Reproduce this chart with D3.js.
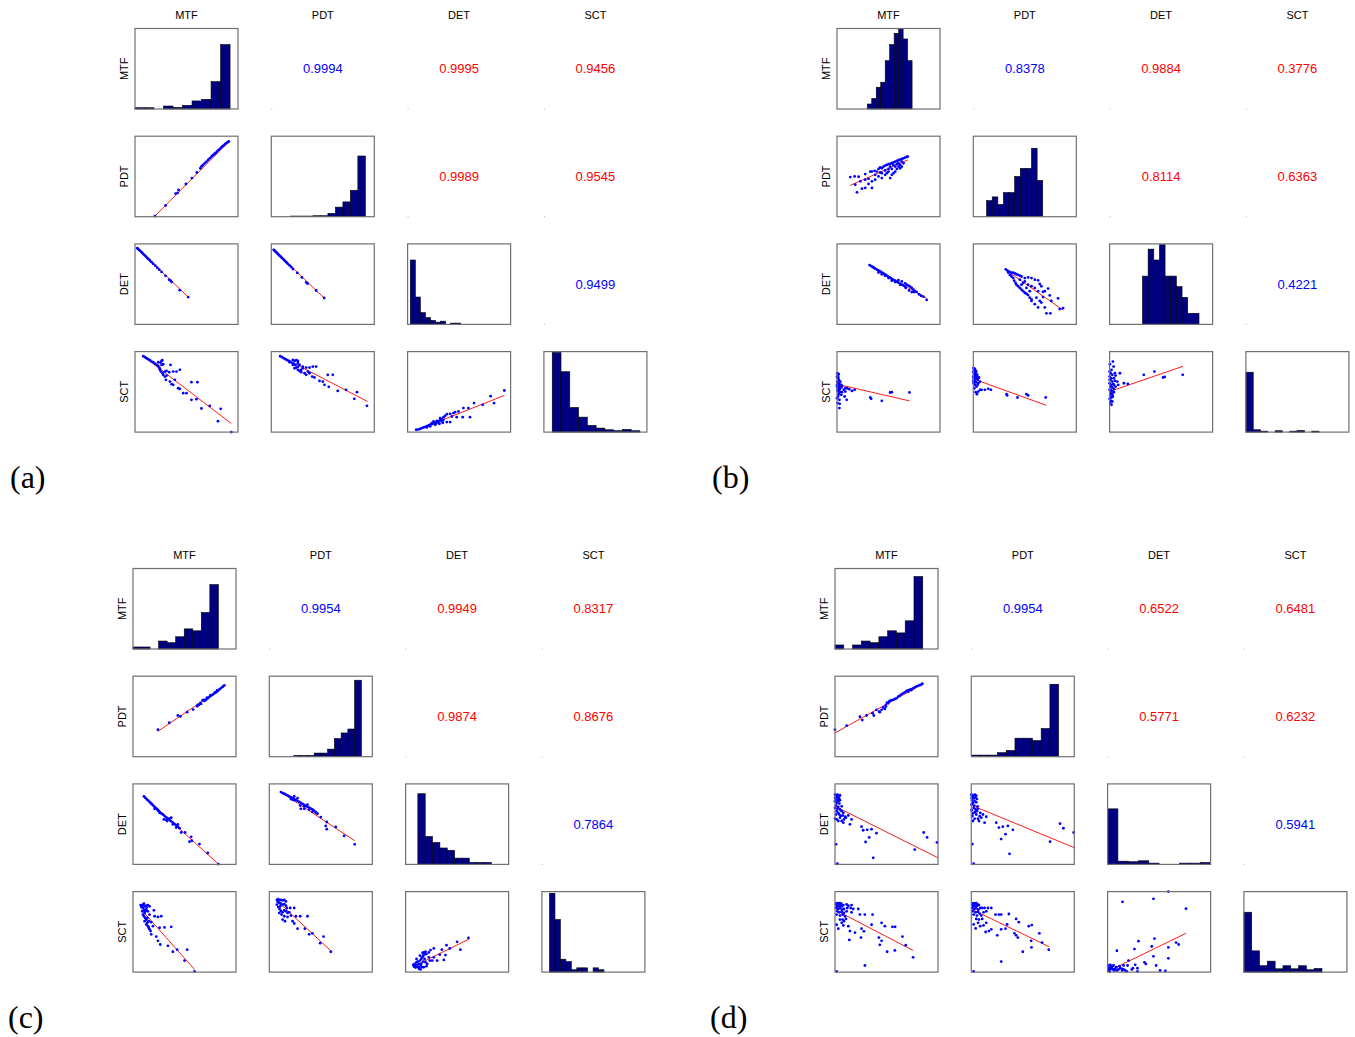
<!DOCTYPE html>
<html><head><meta charset="utf-8">
<script src="https://cdn.jsdelivr.net/npm/d3@7"></script>
<style>body{margin:0;background:#fff}svg{display:block}</style>
</head><body>
<script>
// Scatter-plot matrices of four image-quality measures for four cases.
const variables = ["MTF", "PDT", "DET", "SCT"];
const panelLabels = ["(a)", "(b)", "(c)", "(d)"];

// Signed correlation coefficients, upper triangle order:
// (MTF,PDT) (MTF,DET) (MTF,SCT) (PDT,DET) (PDT,SCT) (DET,SCT)
const corrA = [0.9994, -0.9995, -0.9456, -0.9989, -0.9545, 0.9499];
const corrB = [0.8378, -0.9884, -0.3776, -0.8114, -0.6363, 0.4221];
const corrC = [0.9954, -0.9949, -0.8317, -0.9874, -0.8676, 0.7864];
const corrD = [0.9954, -0.6522, -0.6481, -0.5771, -0.6232, 0.5941];

// Histogram bin heights (percent of axis height), ten bins per variable
const histA_MTF = [1.6, 1.6, 0, 3.7, 2.0, 4.5, 10, 12, 34, 80];
const histA_PDT = [0.8, 0.8, 0.8, 1.2, 1.2, 4.1, 11.9, 18.4, 32.8, 75.4];
const histA_DET = [80, 34, 14.6, 8.5, 4.9, 2.8, 4.0, 0, 1.6, 1.6];
const histA_SCT = [99, 75, 30.6, 18.6, 8.3, 5.0, 2.9, 1.7, 3.3, 1.7];
const histB_MTF = [6.2, 13, 27, 33.3, 60, 80, 94, 100, 87, 60];
const histB_PDT = [20, 24.6, 15.2, 30, 30, 50, 60, 60, 85, 45];
const histB_DET = [60, 93.5, 80, 99, 60, 60, 47, 33.6, 13.8, 13.8];
const histB_SCT = [74.4, 2.9, 1.2, 0, 1.7, 0, 1.2, 2.0, 0, 1.2];
const histC_MTF = [2.5, 2.5, 0, 9.9, 7.8, 15.2, 25, 22.6, 45.3, 80];
const histC_PDT = [1.6, 1.6, 1.6, 4.5, 4.5, 9.4, 22.5, 29.5, 34.4, 95];
const histC_DET = [87.8, 34.7, 27.3, 20.4, 17.5, 7.8, 7.8, 2.4, 2.4, 2.4];
const histC_SCT = [98, 65.3, 16, 13, 2.9, 5.3, 5.3, 0, 5.3, 2.9];
const histD_MTF = [5, 0, 5, 9.9, 7.8, 15.2, 22.6, 20, 35, 90];
const histD_PDT = [2, 2, 2, 5, 7.8, 23, 23, 20, 35, 90];
const histD_DET = [69, 4, 3.3, 4.5, 1.6, 0, 0, 1.6, 1.6, 2.4];
const histD_SCT = [74.4, 26.4, 7.9, 13.6, 4.1, 7.9, 4.1, 7.9, 2.9, 4.5];

// Bin span [first edge, last edge] on each variable's axis (0-100)
const binSpanA = [[0, 92.3], [18.7, 91.3], [2.6, 51.6], [8.1, 93.2]];
const binSpanB = [[29.4, 72.9], [12.9, 67.4], [31.9, 86.8], [0, 71]];
const binSpanC = [[0, 82.9], [23.9, 89.4], [11.9, 83.2], [7.4, 60.3]];
const binSpanD = [[0, 85.2], [0, 84.8], [0, 100], [0, 75.8]];

// Scatter observations [x, y] on 0-100 axes; lower triangle pairs (y vs x)
const ptsA_PDT_MTF = [[19.4,0.8],[29.7,13.9],[39.4,28.7],[41.3,29.5],[42.3,33.2],[49.4,40.6],[55.2,48],[60,54.9],[63.5,60.2],[64.8,62.7],[66.1,64.3],[67.7,66.4],[69.4,68.4],[71,70.5],[72.6,72.5],[74.2,74.6],[75.2,75.8],[76.5,77],[77.4,78.3],[78.4,79.1],[79.7,81.1],[81,82.8],[82.3,84],[83.5,85.7],[84.8,87.3],[86.1,88.5],[87.4,90.2],[88.7,91.4],[90,92.6],[91,93.4]];
const ptsA_DET_MTF = [[2.3,94.7],[3.2,93.5],[4.2,92.3],[5.2,91.1],[6.1,89.9],[7.1,88.7],[8.1,87.4],[9.4,85.8],[10.6,84.2],[11.9,82.6],[13.2,81],[14.5,79.4],[16.1,77.3],[17.7,75.3],[19.7,72.9],[21.6,70.4],[23.5,68],[25.8,65.2],[29.7,60.3],[33.2,55.5],[34.5,54.3],[35.5,52.6],[43.5,42.5],[51.6,34]];
const ptsA_DET_PDT = [[2.3,92.7],[3.2,91.5],[4.2,90.3],[5.2,89.1],[6.1,87.9],[7.1,86.6],[8.1,85.4],[9,84.2],[10,83],[11,81.8],[12.3,80.2],[13.5,78.5],[14.8,76.9],[16.1,75.3],[17.7,73.3],[19.4,71.3],[21,68.8],[25.2,64],[29.7,58.3],[33.9,52.2],[35.2,50.6],[43.5,42.1],[51.3,32.8]];
const ptsA_SCT_MTF = [[8.1,94.2],[9.7,93],[11.3,91.7],[12.9,90.5],[14.5,89.3],[16.1,87.6],[17.7,86.8],[19.4,85.1],[21,83.5],[22.6,82.2],[23.5,80.2],[24.2,78.5],[25.8,88.4],[24.8,86.4],[26.5,89.3],[27.4,84.3],[25.8,83.5],[22.6,86.8],[25.2,75.2],[26.8,73.1],[27.4,71.1],[29,69],[30.6,70.2],[33.2,74.4],[34.5,83.5],[37.1,75.2],[40.3,75.2],[43.5,77.3],[24.2,77.3],[29,75.2],[30,64.9],[33.9,62.8],[37.1,58.7],[38.7,64.9],[41.9,54.5],[43.5,53.7],[46.8,48.3],[50,48.3],[54.8,62],[60.6,62],[54.8,40.1],[59.7,40.9],[64.5,29.3],[72.6,32.6],[83.2,28.9],[80.6,13.6],[93.5,0],[30.6,76],[35.5,59.5]];
const ptsA_SCT_PDT = [[8.7,94.2],[10.6,93],[12.3,91.7],[13.9,90.5],[15.5,89.3],[17.1,88.4],[18.7,87.2],[20.3,86],[21.9,84.7],[23.5,83.5],[21,89.7],[22.6,88.4],[24.2,89.3],[25.8,88.4],[27.4,83.5],[25.8,81],[24.2,80.2],[22.6,79.3],[25.8,77.3],[27.4,76],[29,74.4],[30.6,79.3],[33.9,80.2],[37.1,80.2],[40.3,81.4],[43.5,81.4],[29,77.3],[32.3,73.1],[33.9,71.1],[37.1,73.1],[39.7,69],[41.9,67.8],[46.8,63.6],[50,62.8],[54.8,71.1],[59.7,71.1],[51.6,58.7],[55.8,56.2],[64.5,51.2],[72.6,52.5],[80.6,41.3],[83.2,49.6],[92.9,32.6],[25.8,85.5],[30.6,81.4],[35.5,75.2],[21,83.5],[17.7,86.8]];
const ptsA_SCT_DET = [[8.4,2.9],[10.6,3.3],[12.3,4.1],[13.9,5],[15.5,5.8],[17.1,6.6],[18.7,7.4],[20.3,8.3],[21.9,9.1],[23.5,9.9],[25.2,10.7],[26.8,12],[28.4,12.8],[30,13.6],[31.6,14.9],[33.2,15.7],[25.2,13.2],[28.4,14],[31.6,17.4],[34.8,18.6],[36.5,20.2],[38.1,22.3],[41.3,22.7],[44.5,23.6],[31,10.3],[34.2,11.6],[38.1,12.4],[41.3,12.4],[42.9,19.4],[46.1,24.8],[49.4,25.6],[47.7,18.6],[53.5,18.6],[60.6,18.6],[54.2,29.8],[59,29.8],[64.5,36],[72.9,33.9],[80.6,44.6],[83.9,36],[93.9,51.7],[21.9,7],[18.7,5.8],[26.8,9.1],[30,11.2],[33.2,13.2],[23.5,11.2],[27.4,10.3],[34.8,15.3]];

const ptsB_PDT_MTF = [[12.9,49.2],[17.1,50],[21,49.6],[27.4,52.9],[32.3,56.1],[33.9,56.1],[36.5,57],[38.7,56.1],[40.3,59.4],[41.9,61.1],[43.5,60.2],[45.2,62.3],[46.8,63.5],[48.4,64.3],[50,65.2],[51.6,65.6],[53.2,66.4],[54.8,67.6],[56.5,68.4],[58.1,69.3],[59.7,70.1],[61.3,70.9],[62.9,71.7],[64.5,72.5],[66.1,73.4],[67.7,74.2],[68.7,74.6],[51.6,62.3],[54.8,64.3],[56.5,62.3],[58.1,65.2],[59.7,66.4],[61.3,64.3],[62.9,68.4],[59.7,62.3],[58.1,59.4],[56.5,56.1],[54.8,54.1],[53.2,52],[51.6,48],[50,56.1],[46.8,52],[43.5,48],[40.3,50],[37.1,45.9],[33.9,43.9],[30.6,40.6],[27.4,35.7],[24.2,34.8],[19.4,30.3],[17.7,39.8],[22.6,43.9],[27.4,45.9],[33.9,35.7],[43.5,54.1],[46.8,57.4],[50,59.4],[30.6,47.1],[37.1,52],[41.9,54.9],[61.3,60.2],[62.9,62.3],[64.5,66.4],[53.2,59.4],[48.4,54.1]];
const ptsB_DET_MTF = [[31.6,73.7],[33.2,72.5],[34.5,71.3],[35.8,70.4],[37.1,69.2],[38.4,68.4],[39.7,67.2],[41,66.4],[42.3,65.6],[43.5,64.4],[44.8,63.6],[46.1,62.3],[47.4,61.5],[48.7,60.3],[50,59.1],[51.3,58.3],[52.6,57.1],[53.9,55.9],[55.2,55.1],[56.5,54.3],[58.1,53],[59.7,51.8],[61.3,50.6],[62.9,49.4],[64.5,48.2],[66.1,47],[67.7,49.4],[69.4,48.2],[71,47],[72.6,45.3],[74.2,43.3],[75.8,41.3],[77.4,40.1],[79.7,37.2],[81.6,35.6],[83.9,34.4],[87.1,30.4],[40.3,64.4],[43.5,62.3],[46.8,60.3],[50,57.5],[53.2,54.3],[59.7,55.1],[62.9,53.4],[66.1,51],[56.5,52.6],[70,42.1],[74.8,40.1],[72.6,40.1],[66.8,45.3],[61.3,49.4]];
const ptsB_DET_PDT = [[31.6,68.4],[33.2,66.8],[34.5,65.6],[36.1,64.8],[37.1,63.6],[38.7,64.4],[40.3,63.2],[41.9,62.3],[43.5,61.5],[45.2,60.7],[46.8,59.5],[50,57.5],[53.2,58.3],[56.5,57.5],[59.7,55.5],[62.9,54.7],[33.9,64.4],[35.5,61.5],[37.1,59.5],[38.7,57.5],[39.7,54.3],[41,51.4],[41.9,49.4],[43.5,47.4],[45.2,45.3],[46.8,43.3],[48.4,41.3],[50,39.3],[51.6,38.1],[53.2,36.4],[54.8,33.2],[56.5,31.2],[50,53.4],[53.2,49.4],[56.5,47.4],[59.7,45.3],[62.9,41.3],[66.1,47.4],[69.4,41.3],[72.6,44.5],[74.2,36],[75.8,29.1],[82.3,32.4],[83.9,19],[87.1,20.2],[66.1,27.1],[69.4,21.1],[71,13.8],[74.8,13.8],[62.9,21.1],[59.7,25.1],[56.5,29.1],[46.8,49.4],[45.2,55.5],[48.4,51.4],[51.6,45.3],[54.8,41.3],[61.3,33.2],[64.5,29.1],[67.7,34],[64.5,50.2],[67.7,40.5]];
const ptsB_SCT_MTF = [[0.3,73.1],[1,71.1],[1.6,71.9],[0,69],[0.6,66.9],[1.3,67.8],[1.9,64.9],[0.3,62.8],[1,60.7],[1.6,62.8],[2.3,59.5],[0,58.7],[0.6,56.6],[1.3,57.9],[1.9,54.5],[2.9,55.4],[0.3,52.5],[1,50.4],[2.3,52.5],[3.2,49.6],[4.2,46.3],[1.6,47.1],[1,44.2],[0,42.1],[2.3,40.1],[0.6,36],[2.6,35.1],[2.3,29.8],[4.8,49.6],[6.5,52.5],[8.1,54.5],[9.7,54.5],[11.9,53.3],[14.5,51.2],[17.1,52.5],[8.1,50.4],[7.4,44.2],[9.4,40.1],[3.2,54.5],[4.8,56.6],[32.3,43],[33.2,41.3],[43.5,38.8],[51.6,49.2],[53.2,49.6],[70.3,49.2],[4.2,58.7],[3.2,62.8],[1.6,58.7],[0,56.6]];
const ptsB_SCT_PDT = [[0.3,79.3],[1,77.3],[1.6,78.5],[0,75.2],[0.6,73.1],[2.3,76],[1.3,71.1],[0,69],[1.9,70.2],[0.6,66.9],[2.9,71.9],[1,64.9],[2.3,66.9],[3.5,69],[1.6,62.8],[0.3,60.7],[2.6,62],[4.2,64.9],[4.8,66.9],[1.6,58.7],[3.2,56.6],[4.2,58.7],[1,54.5],[2.3,49.6],[3.5,47.1],[4.8,50.4],[6.5,52.5],[8.1,52.5],[11.3,52.5],[14.5,53.7],[17.1,52.5],[4.8,60.7],[6.5,62.8],[2.9,75.2],[3.9,71.1],[5.5,67.8],[32.3,47.1],[32.9,45.5],[42.9,43],[51.6,47.1],[53.2,45.5],[70.3,43],[0,63.6],[1.6,73.1]];
const ptsB_SCT_DET = [[0.3,84.3],[3.2,87.6],[3.9,81.4],[1.9,77.3],[0,75.2],[1,73.1],[2.6,71.1],[5.2,73.1],[0,69],[1.6,66.9],[4.2,66.9],[5.8,70.2],[1,64.9],[2.6,62.8],[5.2,63.6],[0,60.7],[1.6,58.7],[3.5,59.5],[0.6,56.6],[2.6,55.4],[4.2,53.7],[0,52.5],[1.9,51.2],[3.2,50.4],[1,48.3],[2.6,47.1],[0.6,45.5],[1.9,43],[0,41.3],[1.3,38.8],[2.6,38],[0.6,36],[1.9,33.9],[10,73.1],[7.4,62.8],[8.4,58.7],[13.9,60.7],[17.7,59.9],[33.2,71.1],[43.5,75.2],[51.9,67.8],[53.5,68.6],[71,71.1],[4.2,58.7],[5.8,56.6],[0,64.9],[1.3,52.5],[3.2,44.2],[4.2,49.6]];

const ptsC_PDT_MTF = [[24.2,33.6],[35.2,42.2],[43.5,51.2],[46.1,50],[52.6,55.3],[58.4,58.6],[62.3,62.7],[63.9,64.3],[66.1,65.6],[67.7,70.1],[69.4,69.3],[71,70.9],[72.6,72.5],[74.2,74.2],[75.8,75.8],[77.4,77],[79,78.7],[80.6,79.9],[82.3,81.6],[83.9,83.6],[85.5,85.2],[87.1,86.9],[88.7,88.5],[79.7,79.9],[81.6,82.4],[75.2,76.6],[71.9,73.4],[68.7,70.5],[65.5,66.8],[62.9,64.3]];
const ptsC_DET_MTF = [[10.6,84.5],[11.9,82.9],[13.2,81.2],[14.5,79.6],[15.8,78],[17.1,76.3],[18.4,74.7],[19.7,73.1],[21,71.4],[22.3,69.8],[23.5,68.2],[24.8,66.5],[26.1,64.9],[27.4,63.3],[21,69],[24.2,67.3],[25.8,64.1],[29,62],[30.6,60],[32.3,58.4],[33.9,56.7],[35.5,55.1],[37.1,53.5],[38.7,51.8],[40.3,50.2],[41.9,48.6],[43.5,46.9],[45.2,44.9],[30,55.9],[32.3,55.1],[35.5,56.7],[37.1,58],[46.8,39.6],[50.6,39.6],[56.5,34.3],[54.8,28.2],[57.1,29.4],[64.5,25.3],[72.6,14.3],[82.9,0.4],[43.5,49.8],[41.9,45.7],[33.2,53.9],[38.7,49.8]];
const ptsC_DET_PDT = [[11.3,89.8],[12.9,88.6],[14.5,87.8],[16.1,86.5],[17.7,85.7],[19.4,84.5],[21,83.3],[22.6,82.4],[24.2,81.2],[25.8,80],[27.4,78.8],[29,77.6],[30.6,76.3],[32.3,75.1],[33.9,73.9],[35.5,72.7],[37.1,71.4],[38.7,70.6],[40.3,69.4],[41.9,68.2],[43.5,66.9],[45.2,64.9],[46.8,62.9],[21,81.2],[22.6,80.4],[24.2,79.6],[30.6,69],[33.9,69],[37.1,74.3],[41.9,65.3],[45.2,64.1],[50,58.8],[55.8,52.7],[54.8,47.8],[55.8,43.7],[64.5,46.5],[72.6,35.5],[82.9,24.9],[24.2,84.5],[27.4,82.4],[33.9,72.2],[38.7,68.2],[30,73.1]];
const ptsC_SCT_MTF = [[7.4,83.3],[8.7,82.4],[9.7,83.7],[11.3,81.6],[12.9,82.4],[14.5,83.3],[16.1,81.6],[8.1,80.8],[9.7,79.6],[10.6,77.6],[11.9,75.5],[12.9,77.6],[11.3,73.5],[9.7,71.4],[10.6,69.4],[11.9,67.3],[12.9,65.3],[11.3,63.3],[13.9,61.2],[12.9,59.2],[14.5,57.1],[15.2,55.1],[16.1,53.1],[17.1,51],[17.7,46.9],[20.3,76.7],[21,69.4],[24.2,68.6],[27.4,69.4],[19.4,57.1],[25.8,55.1],[30.6,55.5],[37.1,56.3],[22.6,44.1],[24.2,38.8],[26.5,34.3],[33.9,32.7],[38.7,25.3],[42.9,27.8],[52.6,27.8],[50,14.3],[59.7,0.8],[14.5,75.5],[16.1,71.4],[13.9,67.3],[15.2,63.3],[17.7,62],[9,75.5],[10.6,84.9],[13.2,80]];
const ptsC_SCT_PDT = [[7.4,89.8],[8.7,90.6],[10,89],[11.3,89.8],[12.9,89],[14.5,89.8],[16.1,87.8],[8.1,87.3],[9.7,85.7],[11.3,84.9],[12.9,83.7],[14.5,84.5],[16.1,82.4],[7.4,83.7],[8.7,80.8],[10,78.4],[11.3,75.9],[12.9,74.3],[14.5,76.7],[17.1,79.6],[20.3,79.6],[24.2,79.6],[17.7,73.5],[14.5,69.4],[12.9,65.3],[15.2,63.3],[17.7,68.6],[25.8,69.4],[30,69.4],[37.1,69.4],[22.6,63.3],[24.2,60.4],[27.4,53.9],[34.5,53.9],[38.7,46.9],[41.9,48.2],[52.6,44.1],[49.4,35.9],[59.7,25.3],[9.7,73.5],[11.9,71.4],[16.1,75.5],[19.4,74.3],[21,70.2],[10.6,81.6]];
const ptsC_SCT_DET = [[8.1,6.9],[9.7,8.2],[11.3,9],[12.9,10.2],[8.7,10.2],[10.6,12.2],[11.9,13.1],[13.9,14.3],[15.2,16.3],[16.1,18.4],[17.1,20.4],[18.4,22],[16.5,23.7],[17.7,24.5],[19.4,25.3],[20.3,22.4],[22.6,24.5],[24.2,27.3],[27.4,29.4],[7.4,9],[9.7,5.7],[11.3,6.9],[12.9,6.1],[14.5,7.3],[16.1,6.1],[12.9,4.1],[15.2,10.2],[17.1,13.1],[19.4,12.2],[21,10.2],[23.5,14.3],[25.8,14.3],[27.4,18.4],[30.6,14.3],[37.1,15.1],[33.2,21.6],[38.7,21.2],[35.2,27.8],[39.7,33.5],[42.9,29.4],[50,37.6],[53.2,27.8],[61,42.4],[10.6,16.3],[13.9,20.4],[18.4,16.3],[22.6,18.4],[14.5,3.3],[17.7,6.1],[20.3,7.3]];

const ptsD_PDT_MTF = [[0,33.6],[11.3,38.5],[24.2,49.6],[26.5,45.5],[30.6,51.2],[37.7,51.2],[36.5,54.1],[42.9,56.1],[43.5,55.3],[48.4,59.4],[46.8,61.1],[49.4,64.3],[50.6,67.2],[52.6,68.4],[54.8,70.1],[56.5,70.5],[58.1,71.7],[59.7,72.5],[61.3,74.6],[62.9,75.8],[64.5,77.5],[66.1,78.7],[67.7,79.9],[69.4,81.6],[71,82.4],[72.6,83.2],[74.2,84],[75.8,84.8],[77.4,86.1],[79,87.3],[80.6,88.1],[82.3,88.9],[83.9,89.8],[84.8,90.6],[74.2,82.8],[71,80.7],[53.2,69.3],[51.6,66.4],[49.4,62.3],[45.2,58.2],[40.3,58.2]];
const ptsD_DET_MTF = [[0,86.5],[1,85.3],[2.3,86.5],[3.2,85.7],[4.2,84.5],[4.8,86.1],[1.6,83.7],[0,82.4],[3.2,82.4],[1,80.4],[2.3,79.6],[4.2,81.2],[0,78.4],[3.2,78.4],[4.8,79.6],[1.6,76.3],[4.2,75.5],[1,73.1],[6.5,72.2],[3.2,71.4],[0,70.2],[2.3,69],[4.8,68.2],[1.6,66.1],[6.5,66.1],[3.2,64.1],[1,62],[4.2,62],[8.1,64.1],[0,56.7],[1.6,55.9],[4.8,58],[3.2,53.9],[6.5,53.9],[8.1,51.8],[9.7,59.2],[12.9,60.8],[14.5,49.8],[16.1,55.9],[8.7,55.9],[25.8,46.9],[27.4,42.4],[31.3,42.9],[35.5,43.7],[40.3,38.8],[33.2,33.5],[29.7,27.8],[37.1,8.2],[77.4,18.4],[86.1,39.6],[89.4,33.5],[99,27.3],[1,24.9],[2.3,0.8],[5.5,60],[7.4,60.8],[10.6,58]];
const ptsD_DET_PDT = [[0,86.5],[1,85.3],[2.3,86.1],[3.5,86.5],[4.8,85.3],[1.6,83.7],[0.3,82.4],[2.9,82],[4.2,83.7],[5.5,81.2],[1,79.6],[3.5,78.4],[1.6,76.3],[4.8,77.1],[0.3,74.3],[2.9,73.1],[6.1,72.2],[2.3,70.2],[4.2,68.2],[0.3,67.3],[3.5,64.9],[1.6,63.3],[5.5,66.1],[1,60],[4.8,62],[8.1,60],[3.2,56.7],[6.5,56.7],[9.7,58],[11.3,62],[14.5,59.2],[1.6,53.9],[7.4,53.9],[12.9,51.8],[24.2,51.8],[26.8,45.7],[30.6,46.9],[35.5,47.8],[40.3,42.9],[29,31.4],[33.2,37.6],[37.1,13.1],[1,25.3],[2.3,0.8],[76.5,28.2],[86.1,50.6],[89.4,44.9],[99.4,39.6],[8.7,64.1],[6.5,69]];
const ptsD_SCT_MTF = [[1,84.9],[2.3,85.7],[3.5,84.9],[4.8,85.7],[6.1,84.9],[1.6,82.4],[3.2,81.6],[4.8,82.4],[6.5,81.6],[8.1,83.3],[1,79.6],[2.9,78.4],[4.8,79.2],[6.8,77.6],[8.7,78.4],[2.3,75.5],[4.2,74.3],[6.5,75.1],[8.7,73.5],[1.6,71.4],[4.8,70.2],[7.4,71.4],[9.7,69.4],[11.3,84.1],[12.9,82.4],[16.1,83.3],[11.9,79.6],[15.2,79.6],[17.7,78.4],[22.6,78.4],[24.2,71.4],[29,71.4],[36.5,71.4],[16.1,74.3],[7.4,65.3],[10.6,66.1],[1.6,58.8],[3.2,53.9],[6.5,61.2],[8.1,58],[12.9,57.1],[14.5,51],[19.4,49],[25.8,53.9],[28.1,50.6],[13.9,40],[25.2,42.9],[35.5,58.8],[45.2,61.2],[48.4,57.1],[55.8,56.3],[58.4,56.3],[42.6,42.9],[45.2,38.8],[43.5,33.9],[65.5,44.1],[68.7,33.5],[50.6,25.3],[58.1,26.9],[75.8,18.4],[29,8.2],[1.6,0.8],[8.7,63.3],[4.8,65.3],[11.3,75.5]];
const ptsD_SCT_PDT = [[1,84.9],[2.3,85.7],[3.5,84.9],[4.8,85.7],[6.1,84.1],[1.6,82.4],[3.5,81.6],[5.5,82.4],[7.4,83.3],[1,79.6],[2.9,78.4],[4.8,79.2],[6.8,77.6],[8.7,79.6],[1.6,75.5],[4.2,74.3],[6.5,75.1],[2.3,71.4],[5.5,70.2],[8.1,72.7],[10.6,79.6],[12.9,79.6],[16.1,79.6],[11.9,74.3],[14.5,75.5],[19.4,79.6],[23.5,71.4],[26.8,71.4],[29,71.4],[36.5,72.2],[7.4,65.3],[10.6,66.1],[2.3,59.2],[4.2,54.3],[6.5,61.2],[8.7,57.1],[11.9,58],[14.5,61.2],[17.1,51],[13.9,49.8],[19.4,53.1],[25.2,45.7],[29,53.1],[33.2,53.9],[34.8,59.2],[43.5,66.1],[46.1,62],[55.8,57.1],[58.7,58.4],[41.9,48.2],[43.5,45.7],[45.2,42.9],[29,13.1],[58.1,38.8],[66.1,48.2],[58.4,30.6],[68.7,36.7],[75.2,27.8],[50,25.3],[2.3,0.8],[9.7,70.2],[4.8,66.1]];
const ptsD_SCT_DET = [[1,2],[1.9,3.3],[3.2,4.1],[4.2,4.9],[5.2,3.3],[6.5,2],[2.6,6.1],[4.5,7.3],[7.4,4.1],[9,2],[10.6,3.3],[12.3,4.9],[13.9,4.1],[15.5,3.3],[17.1,2],[18.7,0.8],[1.9,0.8],[1,4.9],[8.4,6.1],[11.6,7.3],[14.2,2],[5.8,8.2],[2.6,9],[20.3,14.3],[23.5,3.3],[24.5,4.9],[26.8,9],[29,0.8],[30,38.4],[26.1,28.6],[35.8,12.2],[37.1,10.2],[42.9,31.8],[45.5,41.6],[44.5,19.6],[47.1,8.2],[51,2],[56.1,1.6],[59,30.6],[59,17.1],[66.5,36.7],[69,34.3],[76.1,78.8],[59,100],[44.5,91],[14.5,87.3],[9,26.5],[29,4.9],[19.4,8.2],[15.5,8.2],[0.6,8.2]];

// Least-squares fit segments [x0, y0, x1, y1], same pair order as the scatters
const fitA = [[18.7,0,91,93],[2.3,94.7,51.6,34],[2.3,92.7,51.3,32.8],[8.1,94.2,93.5,10.7],[8.7,94.2,93.5,38],[9,2.5,93.9,45.5]];
const fitB = [[12.9,38.9,68.7,70.5],[31.6,72.9,87.1,32.4],[31.6,67.6,87.1,17.8],[0,59.5,70.3,38.8],[0,66.1,71,33.2],[0,50.4,71.3,81.8]];
const fitC = [[24.2,31.6,89.4,88.1],[10.6,84.5,82.9,0.4],[11.3,89.8,82.9,29.4],[8.1,77.6,59.7,3.3],[8.1,87.8,59.7,26.5],[8.1,7.3,61.3,40.8]];
const fitD = [[0,29.5,85.5,90.6],[0,72.2,100,8.2],[0,73.5,100,20.8],[1,76.7,75.8,26.9],[1,77.6,75.8,31.4],[0,0.8,76.1,48.2]];

// ---- assemble panels ----
const panels = [
  {label: panelLabels[0], corr: corrA, hist: [histA_MTF, histA_PDT, histA_DET, histA_SCT], span: binSpanA,
   pts: [ptsA_PDT_MTF, ptsA_DET_MTF, ptsA_DET_PDT, ptsA_SCT_MTF, ptsA_SCT_PDT, ptsA_SCT_DET], fit: fitA, x: 135, y: 28.5},
  {label: panelLabels[1], corr: corrB, hist: [histB_MTF, histB_PDT, histB_DET, histB_SCT], span: binSpanB,
   pts: [ptsB_PDT_MTF, ptsB_DET_MTF, ptsB_DET_PDT, ptsB_SCT_MTF, ptsB_SCT_PDT, ptsB_SCT_DET], fit: fitB, x: 837, y: 28.5},
  {label: panelLabels[2], corr: corrC, hist: [histC_MTF, histC_PDT, histC_DET, histC_SCT], span: binSpanC,
   pts: [ptsC_PDT_MTF, ptsC_DET_MTF, ptsC_DET_PDT, ptsC_SCT_MTF, ptsC_SCT_PDT, ptsC_SCT_DET], fit: fitC, x: 133, y: 568.5},
  {label: panelLabels[3], corr: corrD, hist: [histD_MTF, histD_PDT, histD_DET, histD_SCT], span: binSpanD,
   pts: [ptsD_PDT_MTF, ptsD_DET_MTF, ptsD_DET_PDT, ptsD_SCT_MTF, ptsD_SCT_PDT, ptsD_SCT_DET], fit: fitD, x: 835, y: 568.5}
];

// lower-triangle (row, col) and upper-triangle (row, col) cell order
const lowerCells = [[1,0],[2,0],[2,1],[3,0],[3,1],[3,2]];
const upperCells = [[0,1],[0,2],[0,3],[1,2],[1,3],[2,3]];

const cellW = 103, cellH = 80.5, colStep = 136.3, rowStep = 107.7;
const sans = "'Liberation Sans', Arial, Helvetica, sans-serif";

const svg = d3.select("body").append("svg").attr("width", 1355).attr("height", 1037);

panels.forEach(p => {
  const g = svg.append("g");
  const cx = c => p.x + c * colStep;
  const cy = r => p.y + r * rowStep;
  const xScale = c => d3.scaleLinear().domain([0, 100]).range([cx(c), cx(c) + cellW]);
  const yScale = r => d3.scaleLinear().domain([0, 100]).range([cy(r) + cellH, cy(r)]);

  // column titles and row titles
  variables.forEach((v, i) => {
    g.append("text").attr("x", cx(i) + cellW / 2).attr("y", p.y - 9.5)
      .attr("text-anchor", "middle").attr("font-family", sans).attr("font-size", 11).text(v);
    const ry = cy(i) + cellH / 2, rx = p.x - 11;
    g.append("text").attr("transform", `translate(${rx},${ry}) rotate(-90)`)
      .attr("text-anchor", "middle").attr("dominant-baseline", "central")
      .attr("font-family", sans).attr("font-size", 11).text(v);
  });

  // diagonal histograms: equal-width bins across each variable's span
  variables.forEach((v, i) => {
    const xs = xScale(i), ys = yScale(i);
    const [lo, hi] = p.span[i];
    const n = p.hist[i].length;
    const bins = p.hist[i]
      .map((d, k) => ({h: d, x0: lo + k * (hi - lo) / n, x1: lo + (k + 1) * (hi - lo) / n}))
      .filter(b => b.h > 0);
    g.append("g").selectAll("rect").data(bins).join("rect")
      .attr("x", b => xs(b.x0)).attr("width", b => xs(b.x1) - xs(b.x0))
      .attr("y", b => ys(b.h)).attr("height", b => ys(0) - ys(b.h))
      .attr("fill", "#000080").attr("stroke", "#000").attr("stroke-width", 0.6);
  });

  // lower triangle scatters with fitted lines
  lowerCells.forEach(([r, c], k) => {
    const xs = xScale(c), ys = yScale(r);
    const f = p.fit[k];
    g.append("line").attr("x1", xs(f[0])).attr("y1", ys(f[1])).attr("x2", xs(f[2])).attr("y2", ys(f[3]))
      .attr("stroke", "#ff0000").attr("stroke-width", 0.9);
    g.append("g").selectAll("circle").data(p.pts[k]).join("circle")
      .attr("cx", d => xs(d[0])).attr("cy", d => ys(d[1])).attr("r", 1.4).attr("fill", "#0000ff");
  });

  // frames for diagonal and lower cells
  variables.forEach((v, r) => {
    for (let c = 0; c <= r; c++) {
      g.append("rect").attr("x", cx(c)).attr("y", cy(r)).attr("width", cellW).attr("height", cellH)
        .attr("fill", "none").attr("stroke", "#707070").attr("stroke-width", 1.2);
    }
  });

  // upper triangle correlation values
  upperCells.forEach(([r, c], k) => {
    const val = p.corr[k];
    g.append("text").attr("x", cx(c) + cellW / 2).attr("y", cy(r) + cellH / 2)
      .attr("text-anchor", "middle").attr("dominant-baseline", "central")
      .attr("font-family", sans).attr("font-size", 13)
      .attr("fill", val >= 0 ? "#0000ff" : "#ff0000")
      .text(Math.abs(val).toFixed(4));
    g.append("rect").attr("x", cx(c)).attr("y", cy(r) + cellH - 0.5).attr("width", 1).attr("height", 1)
      .attr("fill", "#b0b0b0");
  });

  // panel letter
  g.append("text").attr("x", p.x - 125).attr("y", p.y + 459)
    .attr("font-family", "'Liberation Serif', 'Times New Roman', serif").attr("font-size", 32)
    .text(p.label);
});
</script>
</body></html>
